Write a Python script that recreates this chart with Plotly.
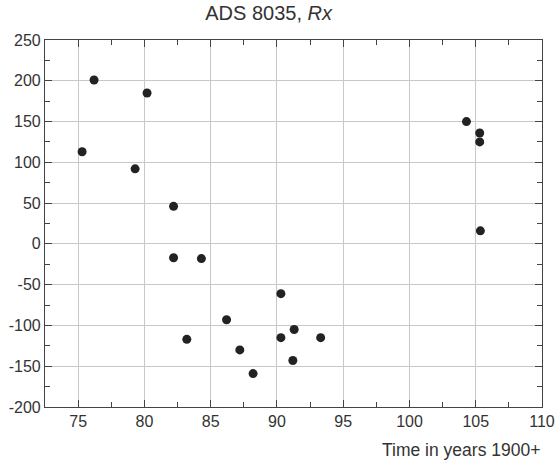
import plotly.graph_objects as go

years = [75.3, 76.2, 80.2, 79.3, 82.2, 82.2, 83.2, 84.3, 86.2, 87.2, 88.2,
         90.3, 90.3, 91.3, 91.2, 93.3, 104.3, 105.3, 105.3, 105.35]
rx = [113, 201, 185, 92, 46, -17, -117, -18, -93, -130, -159,
      -61, -115, -105, -143, -115, 150, 136, 125, 16]

x_ticks = [75, 80, 85, 90, 95, 100, 105, 110]
y_ticks = [-200, -150, -100, -50, 0, 50, 100, 150, 200, 250]
y_labels = [str(v) for v in y_ticks]

title_text = "ADS 8035, <i>Rx</i>"
x_title = "Time in years 1900+"

FONT = "Liberation Sans, Arial, sans-serif"

fig = go.Figure()
fig.add_trace(go.Scatter(
    x=years, y=rx, mode="markers",
    marker=dict(size=9, color="#222222"),
    showlegend=False,
))

axis_common = dict(
    showline=True, linecolor="#444444", linewidth=1.2, mirror="ticks",
    ticks="inside", ticklen=7, tickcolor="#444444",
    showgrid=True, gridcolor="#c8c8c8", gridwidth=1,
    zeroline=False, automargin=False,
    tickfont=dict(family=FONT, size=16, color="#333333"),
)

fig.update_xaxes(range=[72.5, 110], tickmode="array", tickvals=x_ticks,
                 minor=dict(dtick=2.5, tick0=72.5, ticks="inside", ticklen=5, tickcolor="#444444", showgrid=False),
                 **axis_common)
fig.update_yaxes(range=[-200, 250], tickmode="array", tickvals=y_ticks, ticktext=y_labels,
                 minor=dict(dtick=25, tick0=0, ticks="inside", ticklen=5, tickcolor="#444444", showgrid=False),
                 **axis_common)

fig.update_layout(
    width=555, height=462, autosize=False,
    margin=dict(l=45, r=13, t=40, b=55),
    paper_bgcolor="white", plot_bgcolor="white",
    title=dict(text=title_text, x=0.45, xanchor="center", y=0.988, yanchor="top",
               xref="paper", automargin=False,
               font=dict(family=FONT, size=20, color="#333333")),
    annotations=[dict(text=x_title, xref="paper", yref="paper", x=1.0, y=-0.085,
                      xanchor="right", yanchor="top", showarrow=False,
                      font=dict(family=FONT, size=17.5, color="#333333"))],
)

fig.write_html(
    "out.html",
    config={"displayModeBar": False, "responsive": False},
    default_width="555px", default_height="462px",
    post_script="document.body.style.margin='0';document.body.style.overflow='hidden';",
)
